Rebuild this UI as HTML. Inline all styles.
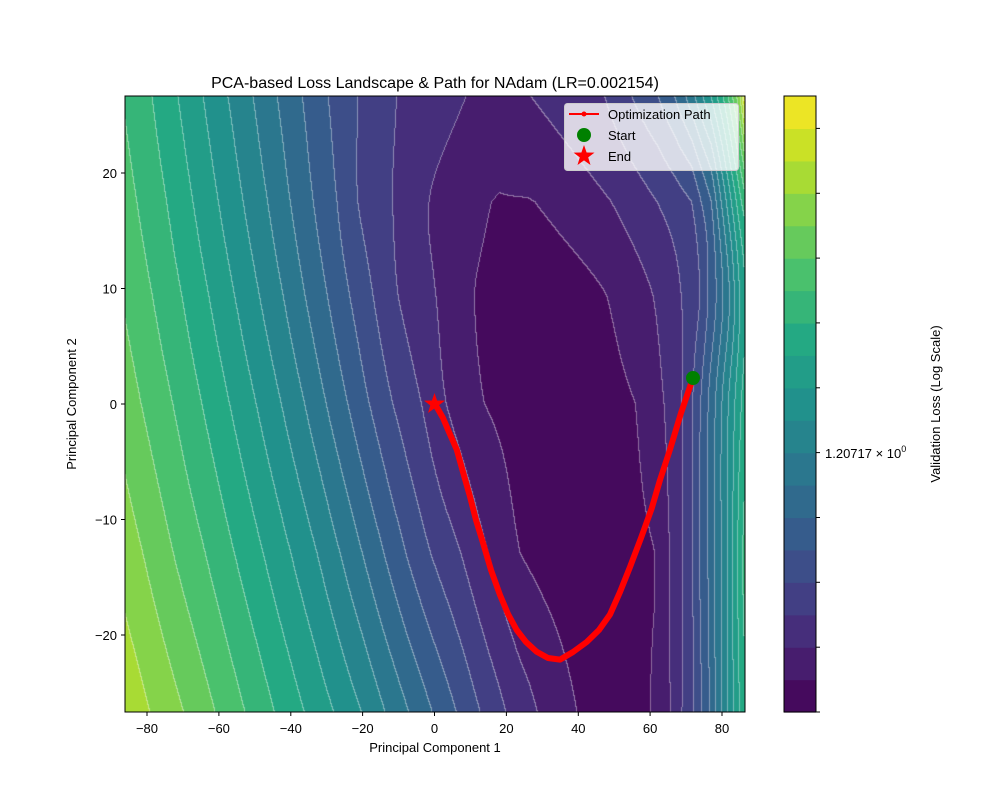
<!DOCTYPE html>
<html><head><meta charset="utf-8"><style>
html,body{margin:0;padding:0;background:#fff;}
#wrap{position:relative;width:1000px;height:800px;overflow:hidden;font-family:"Liberation Sans","DejaVu Sans",sans-serif;}
canvas{position:absolute;left:125px;top:96px;}
svg{position:absolute;left:0;top:0;}
</style></head><body><div id="wrap">
<canvas id="c" width="620" height="616"></canvas>
<svg width="1000" height="800" xmlns="http://www.w3.org/2000/svg" font-family="Liberation Sans, DejaVu Sans, sans-serif">
<g id="cbar"></g>
<rect x="125" y="96" width="620" height="616" fill="none" stroke="#000" stroke-width="1"/>
<rect x="784" y="96" width="32" height="616" fill="none" stroke="#000" stroke-width="1"/>
<g stroke="#000" stroke-width="1">
<line x1="147" y1="712" x2="147" y2="716"/><line x1="218.9" y1="712" x2="218.9" y2="716"/><line x1="290.8" y1="712" x2="290.8" y2="716"/><line x1="362.6" y1="712" x2="362.6" y2="716"/><line x1="434.5" y1="712" x2="434.5" y2="716"/><line x1="506.4" y1="712" x2="506.4" y2="716"/><line x1="578.3" y1="712" x2="578.3" y2="716"/><line x1="650.1" y1="712" x2="650.1" y2="716"/><line x1="722" y1="712" x2="722" y2="716"/>
<line x1="121" y1="173" x2="125" y2="173"/><line x1="121" y1="288.5" x2="125" y2="288.5"/><line x1="121" y1="404" x2="125" y2="404"/><line x1="121" y1="519.5" x2="125" y2="519.5"/><line x1="121" y1="635" x2="125" y2="635"/>
</g>
<g font-size="13" fill="#000" text-anchor="middle">
<text x="147" y="733">−80</text><text x="218.9" y="733">−60</text><text x="290.8" y="733">−40</text><text x="362.6" y="733">−20</text><text x="434.5" y="733">0</text><text x="506.4" y="733">20</text><text x="578.3" y="733">40</text><text x="650.1" y="733">60</text><text x="722" y="733">80</text>
</g>
<g font-size="13" fill="#000" text-anchor="end">
<text x="117" y="178">20</text><text x="117" y="293.5">10</text><text x="117" y="409">0</text><text x="117" y="524.5">−10</text><text x="117" y="640">−20</text>
</g>
<text x="435" y="752" font-size="13" text-anchor="middle">Principal Component 1</text>
<text transform="translate(76,404) rotate(-90)" font-size="13" text-anchor="middle">Principal Component 2</text>
<text x="435" y="88" font-size="16" text-anchor="middle">PCA-based Loss Landscape &amp; Path for NAdam (LR=0.002154)</text>
<text x="825" y="458" font-size="13">1.20717 × 10<tspan dy="-6" font-size="9">0</tspan></text>
<text transform="translate(940,404) rotate(-90)" font-size="13" text-anchor="middle">Validation Loss (Log Scale)</text>
<polyline fill="none" stroke="#ff0000" stroke-width="6" stroke-linejoin="round" stroke-linecap="round" points="693,378 681,413 670,449.5 660,480 651.7,508.4 641,538 630,567 620,592 610,614.5 599,630 586.7,642 573,652 560,659.6 548,658 536.7,651.8 526,642 516.7,630 508,614 500,595 491,570 483.3,543.8 476,520 470,496.6 463,472 456.7,449.5 449,432 443,418 435,404"/>
<circle cx="693" cy="378" r="7" fill="#008000"/>
<polygon fill="#ff0000" points="434.5,393 437.1,400.5 445,400.6 438.7,405.4 441,413 434.5,408.4 428,413 430.3,405.4 424,400.6 431.9,400.5"/>
<rect x="564.5" y="103.5" width="174" height="67" rx="3" fill="#ffffff" fill-opacity="0.8" stroke="#cccccc"/>
<line x1="569" y1="114" x2="599" y2="114" stroke="#ff0000" stroke-width="2"/>
<circle cx="584" cy="114" r="2.5" fill="#ff0000"/>
<circle cx="584" cy="135" r="7" fill="#008000"/>
<polygon fill="#ff0000" points="584,145 586.6,152.5 594.5,152.6 588.2,157.4 590.5,165 584,160.4 577.5,165 579.8,157.4 573.5,152.6 581.4,152.5"/>
<g font-size="13" fill="#000"><text x="608" y="119">Optimization Path</text><text x="608" y="140">Start</text><text x="608" y="161">End</text></g>
</svg>
</div>
<script>
var V=[[0,[68,1,84]],[0.1,[72,36,117]],[0.2,[65,68,135]],[0.3,[53,95,141]],[0.4,[42,120,142]],[0.5,[33,145,140]],[0.6,[34,168,132]],[0.7,[68,191,112]],[0.8,[122,209,81]],[0.9,[189,223,38]],[1,[253,231,37]]];
function vir(t){for(var i=0;i<V.length-1;i++){if(t<=V[i+1][0]){var f=(t-V[i][0])/(V[i+1][0]-V[i][0]);var a=V[i][1],b=V[i+1][1];return [a[0]+(b[0]-a[0])*f,a[1]+(b[1]-a[1])*f,a[2]+(b[2]-a[2])*f];}}return V[V.length-1][1];}
var N=19,cols=[];for(var k=0;k<N;k++)cols.push(vir((k+0.5)/N));
var cb=document.getElementById('cbar'),s='';
var bh=616/N;
for(var k=0;k<N;k++){var c=cols[k];var y=712-(k+1)*bh;s+='<rect x="784" y="'+y.toFixed(2)+'" width="32" height="'+(bh+0.6).toFixed(2)+'" fill="rgb('+c.map(Math.round).join(',')+')"/>';}
for(var k=1;k<=N;k+=2){var y=96+k*bh;s+='<line x1="816" y1="'+y.toFixed(1)+'" x2="820" y2="'+y.toFixed(1)+'" stroke="#000"/>';}
cb.innerHTML=s;
var rows=[
[26.7,[[-86.9,13],[-78.5,12],[-71.3,11],[-64.3,10],[-57.4,9],[-50.4,8],[-43.7,7],[-36.7,6],[-29.5,5],[-21.2,4],[-10.4,3],[9,2],[18,1.4],[26.7,2],[47.4,3],[54.9,4],[62.3,5],[66.9,6],[70,7],[72.5,8],[74.7,9],[77,10],[78.7,11],[80.4,12],[81.8,13],[83,14],[84.2,15],[85.1,16],[85.8,17],[86.3,18.4]]],
[17.5,[[-91.5,14],[-82.7,13],[-74.4,12],[-67.1,11],[-60,10],[-53.1,9],[-46.3,8],[-40,7],[-33.6,6],[-27,5],[-21.2,4],[-11.5,3],[-1.4,2],[16,1],[18,0.97],[26,0.97],[28,1],[49.3,2],[62,3],[71.6,4],[74.3,5],[77.1,6],[78.5,7],[79.9,8],[81.3,9],[82.7,10],[84.1,11],[85.5,12],[86.3,12.5]]],
[9.4,[[-87.2,14],[-78.4,13],[-70.2,12],[-62.7,11],[-55.5,10],[-48.6,9],[-42,8],[-35.9,7],[-29.7,6],[-23.5,5],[-17,4],[-10,3],[0.5,2],[11.3,1],[30,0.3],[48,1],[60.9,2],[68.8,3],[73.9,4],[76.2,5],[78.5,6],[80.4,7],[82.2,8],[83.6,9],[85,10],[86.3,10.8]]],
[0,[[-90,15],[-81.5,14],[-72.7,13],[-64.6,12],[-56.9,11],[-49.5,10],[-42.5,9],[-36,8],[-30,7],[-24,6],[-18,5],[-11.5,4],[-3.5,3],[3.4,2],[14,1],[35,0.3],[56,1],[64,2],[69,3],[72,4],[74.2,5],[76.3,6],[78.3,7],[80.1,8],[81.9,9],[83.7,10],[85.5,11],[86.3,11.4]]],
[-13,[[-90,16],[-81,15],[-72.5,14],[-63.6,13],[-55.5,12],[-47.5,11],[-39.8,10],[-32.5,9],[-26.1,8],[-19.9,7],[-13.9,6],[-7.8,5],[-0.9,4],[7.5,3],[15,2],[24,1],[42,0.3],[61.4,1],[65.5,2],[69.1,3],[72,4],[73.9,5],[76.2,6],[78,7],[79.9,8],[81.7,9],[83.1,10],[84.5,11],[85.9,12],[86.3,12.2]]],
[-26.8,[[-88,17],[-79,16],[-69.6,15],[-60.8,14],[-52.5,13],[-44.3,12],[-36,11],[-27.8,10],[-20.1,9],[-13.5,8],[-6.9,7],[-0.4,6],[6.3,5],[12.9,4],[20.1,3],[28.8,2],[39.8,1],[50,0.5],[60.2,1],[65.7,2],[69,3],[72.3,4],[74.5,5],[76.7,6],[78.3,7],[80,8],[81.6,9],[83.3,10],[85,11],[86.3,11.7]]]
];
function ev(p,x){if(x<=p[0][0])return p[0][1];for(var i=0;i<p.length-1;i++){if(x<=p[i+1][0]){var f=(x-p[i][0])/(p[i+1][0]-p[i][0]);return p[i][1]+(p[i+1][1]-p[i][1])*f;}}return p[p.length-1][1];}
var W=620,H=616,cv=document.getElementById('c'),ctx=cv.getContext('2d'),img=ctx.createImageData(W,H);
var band=new Int8Array(W*H);
var R=rows.length;
for(var py=0;py<H;py++){var dy=(404-(96+py+0.5))/11.55;var r=0;while(r<R-2&&dy<rows[r+1][0])r++;var y0=rows[r][0],y1=rows[r+1][0];var t=(dy-y0)/(y1-y0);if(t<0)t=0;if(t>1)t=1;
var ra=Math.max(r-1,0),rb=Math.min(r+2,R-1);
var h00=2*t*t*t-3*t*t+1,h10=t*t*t-2*t*t+t,h01=-2*t*t*t+3*t*t,h11=t*t*t-t*t;
for(var px=0;px<W;px++){var dx=(125+px+0.5-434.5)/3.594;
var p0=ev(rows[ra][1],dx),p1=ev(rows[r][1],dx),p2=ev(rows[r+1][1],dx),p3=ev(rows[rb][1],dx);
var ya=rows[ra][0],yb=rows[rb][0];
var m1=(ra==r)?(p2-p1):(p2-p0)/(y1-ya)*(y1-y0);
var m2=(rb==r+1)?(p2-p1):(p3-p1)/(yb-y0)*(y1-y0);
var g=h00*p1+h10*m1+h01*p2+h11*m2;
var lo=Math.min(p1,p2)-0.3,hi=Math.max(p1,p2)+0.3;if(g<lo)g=lo;if(g>hi)g=hi;
var b=Math.floor(g);if(b<0)b=0;if(b>N-1)b=N-1;band[py*W+px]=b;}}
for(var py=0;py<H;py++)for(var px=0;px<W;px++){var i=py*W+px,b=band[i],c=cols[b];var e=false;if(px<W-1&&band[i+1]!=b)e=true;if(py<H-1&&band[i+W]!=b)e=true;var a=e?0.4:0;var o=i*4;img.data[o]=c[0]*(1-a)+255*a;img.data[o+1]=c[1]*(1-a)+255*a;img.data[o+2]=c[2]*(1-a)+255*a;img.data[o+3]=255;}
ctx.putImageData(img,0,0);
</script>
</body></html>
